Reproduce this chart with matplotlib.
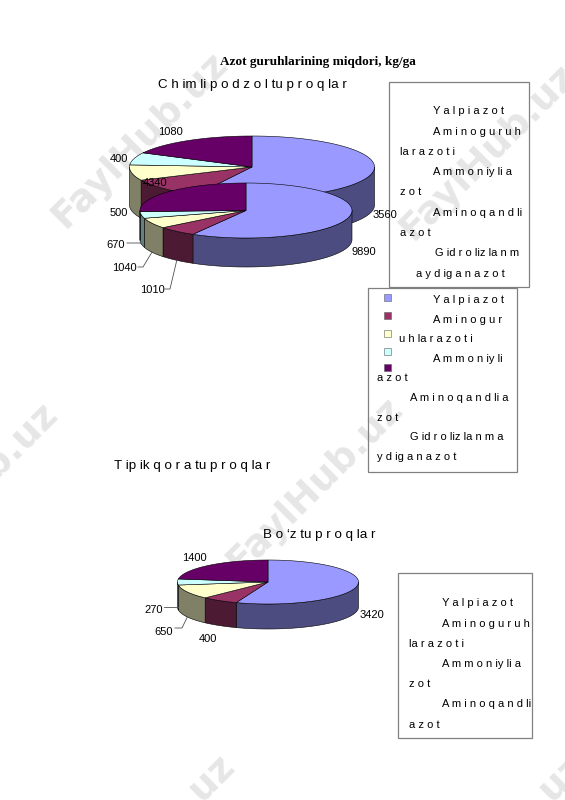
import numpy as np
import matplotlib
matplotlib.use("Agg")
import matplotlib.pyplot as plt
from matplotlib.patches import Rectangle

# slice order in all three pies
slice_colors = ["#9999FF", "#993366", "#FFFFCC", "#CCFFFF", "#660066"]
side_colors = ["#4C4C80", "#4D1A33", "#808066", "#668080", "#330033"]

# values, the back pie's second value has no readable label so it is estimated
chimli_values = [3560, 650, 500, 400, 1080]
chimli_labels = ["3560", None, "500", "400", "1080"]
tipik_values = [9890, 1010, 1040, 670, 4340]
tipik_labels = ["9890", "1010", "1040", "670", "4340"]
boz_values = [3420, 400, 650, 270, 1400]
boz_labels = ["3420", "400", "650", "270", "1400"]

main_title = "Azot guruhlarining miqdori, kg/ga"
chimli_title = "C h im li p o d z o l tu p r o q la r"
tipik_title = "T ip ik q o r a tu p r o q la r"
boz_title = "B o ‘z tu p r o q la r"

legend_a = ["Y a l p i a z o t", "A m i n o g u r u h", "la r a z o t i", "A m m o n iy li a",
            "z o t", "A m i n o q a n d li", "a z o t", "G id r o liz la n m",
            "a y d ig a n a z o t"]
legend_b = ["Y a l p i a z o t", "A m i n o g u r", "u h la r a z o t i", "A m m o n iy li",
            "a z o t", "A m i n o q a n d li a", "z o t", "G id r o liz la n m a",
            "y d ig a n a z o t"]
legend_c = ["Y a l p i a z o t", "A m i n o g u r u h", "la r a z o t i", "A m m o n iy li a",
            "z o t", "A m i n o q a n d li", "a z o t"]

watermark = "FaylHub.uz"
SANS = "Liberation Sans"


def ellipse(cx, cy, rx, ry, t):
    """Point on the pie rim, t in degrees clockwise from the top."""
    t = np.radians(t)
    return cx + rx * np.sin(t), cy - ry * np.cos(t)


def draw_pie(ax, values, cx, cy, rx, ry, depth, z):
    edges = np.concatenate([[0], np.cumsum(values)]) / np.sum(values) * 360
    for i in range(len(values)):
        lo, hi = max(edges[i], 90), min(edges[i + 1], 270)
        if hi > lo:
            t = np.linspace(lo, hi, 80)
            x, y = ellipse(cx, cy, rx, ry, t)
            ax.fill(np.r_[x, x[::-1]], np.r_[y, y[::-1] + depth], fc=side_colors[i],
                    ec="black", lw=0.4, zorder=z)
    for i in range(len(values)):
        t = np.linspace(edges[i], edges[i + 1], 120)
        x, y = ellipse(cx, cy, rx, ry, t)
        ax.fill(np.r_[cx, x], np.r_[cy, y], fc=slice_colors[i], ec="black", lw=0.4, zorder=z + 0.1)
    return edges


def leader(ax, edges, i, cx, cy, rx, ry, depth, start, elbow):
    # from the label to the lower rim of slice i
    mid = (edges[i] + edges[i + 1]) / 2
    x, y = ellipse(cx, cy, rx, ry, mid)
    ax.plot([start[0], elbow, x], [start[1], start[1], y + depth], color="#505050", lw=0.6, zorder=20)


def legend_box(ax, x0, y0, x1, y1, lines, xs, ys):
    ax.add_patch(Rectangle((x0, y0), x1 - x0, y1 - y0, fc="none", ec="#808080", lw=0.9, zorder=5))
    for s, x, y in zip(lines, xs, ys):
        ax.text(x, y, s, fontsize=8, family=SANS, va="center", ha="left", color="black", zorder=6)


fig = plt.figure(figsize=(5.65, 8), dpi=100)
ax = fig.add_axes([0, 0, 1, 1])
ax.set_xlim(0, 565)
ax.set_ylim(800, 0)
ax.axis("off")

for wx, wy in [(140, 140), (488, 152), (-30, 490), (315, 485), (147, 842), (497, 842)]:
    ax.text(wx, wy, watermark, fontsize=27, fontweight="bold", rotation=45, color="#E6E6E6",
            ha="center", va="center", rotation_mode="anchor", zorder=0, clip_on=True)

# back pie, then the second one drawn over it
draw_pie(ax, chimli_values, 252, 167, 122.5, 31, 38, 2)
tip = (246, 210.5, 106, 27.5, 29)
tip_edges = draw_pie(ax, tipik_values, *tip, 3)
boz = (268, 582, 90.5, 22, 25)
boz_edges = draw_pie(ax, boz_values, *boz, 3)

chimli_pos = [(385, 215), None, (119, 213), (119, 159), (170, 132)]
tipik_pos = [(364, 252), (152, 290), (124, 268), (116, 245), (155, 183)]
boz_pos = [(372, 615), (208, 639), (164, 632), (154, 610), (194, 558)]
for labels, pos in [(chimli_labels, chimli_pos), (tipik_labels, tipik_pos), (boz_labels, boz_pos)]:
    for s, p in zip(labels, pos):
        if s is not None:
            ax.text(p[0], p[1], s, fontsize=8, family=SANS, ha="center", va="center", zorder=21)

leader(ax, tip_edges, 1, *tip, (165, 289), 170)
leader(ax, tip_edges, 2, *tip, (138, 267), 143)
leader(ax, tip_edges, 3, *tip, (127, 243), 140)
leader(ax, boz_edges, 2, *boz, (175, 628), 182)
leader(ax, boz_edges, 3, *boz, (164, 607), 177)

ax.text(318, 62, main_title, fontsize=9.5, fontweight="bold", family="Liberation Serif",
        ha="center", va="center", zorder=6)
ax.text(252, 85, chimli_title, fontsize=9.6, family=SANS, ha="center", va="center", zorder=6)
ax.text(192, 466, tipik_title, fontsize=9.6, family=SANS, ha="center", va="center", zorder=6)
ax.text(319, 535, boz_title, fontsize=9.6, family=SANS, ha="center", va="center", zorder=6)

legend_box(ax, 389, 82, 529, 287, legend_a,
           [433, 433, 400, 433, 400, 433, 400, 435, 416],
           [111, 132, 152, 172, 192, 213, 233, 253, 274])
legend_box(ax, 368, 288, 517, 472, legend_b,
           [433, 433, 399, 433, 377, 410, 377, 410, 377],
           [300, 320, 339, 359, 378, 398, 418, 437, 457])
legend_box(ax, 398, 573, 532, 738, legend_c,
           [442, 442, 409, 442, 409, 442, 409],
           [603, 624, 644, 664, 684, 704, 725])

# colour keys of the middle legend
for c, y in zip(slice_colors, [297, 315, 333, 351, 367]):
    ax.add_patch(Rectangle((383.5, y - 3.5), 7, 7, fc=c, ec="#606060", lw=0.4, zorder=6))

fig.savefig("out.png", dpi=100)
